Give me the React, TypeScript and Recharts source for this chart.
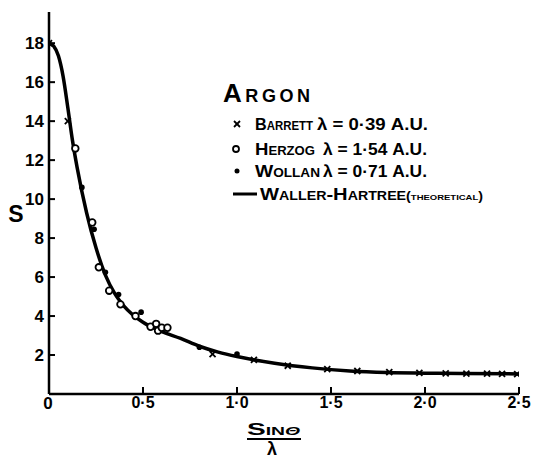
import React from "react";
import { ComposedChart, Line, Scatter, XAxis, YAxis } from "recharts";

const curveX = [0, 0.025, 0.05, 0.075, 0.1, 0.125, 0.15, 0.2, 0.25, 0.3, 0.35, 0.4, 0.5, 0.6, 0.7, 0.8, 0.9, 1.0, 1.2, 1.4, 1.6, 1.8, 2.0, 2.2, 2.5];
const curveS = [18, 17.85, 17.35, 16.3, 14.7, 13.0, 11.6, 9.3, 7.5, 6.1, 5.15, 4.5, 3.68, 3.2, 2.85, 2.45, 2.15, 1.92, 1.58, 1.34, 1.18, 1.1, 1.07, 1.05, 1.03];

const barrettX = [0.0, 0.1, 0.87, 1.09, 1.27, 1.48, 1.64, 1.81, 1.97, 2.11, 2.22, 2.33, 2.41, 2.49];
const barrettS = [18, 14.0, 2.05, 1.75, 1.45, 1.28, 1.18, 1.12, 1.08, 1.06, 1.05, 1.04, 1.03, 1.02];

const herzogX = [0.14, 0.23, 0.265, 0.32, 0.38, 0.46, 0.54, 0.57, 0.58, 0.6, 0.63];
const herzogS = [12.6, 8.8, 6.5, 5.3, 4.6, 4.0, 3.45, 3.6, 3.25, 3.4, 3.4];

const wollanX = [0.175, 0.24, 0.3, 0.37, 0.49, 0.8, 1.0];
const wollanS = [10.6, 8.45, 6.25, 5.1, 4.2, 2.4, 2.05];

const xTicks = [0, 0.5, 1.0, 1.5, 2.0, 2.5];
const xTickLabels = ["0", "0·5", "1·0", "1·5", "2·0", "2·5"];
const yTicks = [2, 4, 6, 8, 10, 12, 14, 16, 18];

const curve = curveX.map((x, i) => ({ x, s: curveS[i] }));
const barrett = barrettX.map((x, i) => ({ x, s: barrettS[i] }));
const herzog = herzogX.map((x, i) => ({ x, s: herzogS[i] }));
const wollan = wollanX.map((x, i) => ({ x, s: wollanS[i] }));

const FONT = "'Liberation Sans', Arial, sans-serif";

const CrossShape = (p: any) => (
  <g>
    <line x1={p.cx - 3} y1={p.cy - 3} x2={p.cx + 3} y2={p.cy + 3} stroke="#000" strokeWidth={1.8} />
    <line x1={p.cx - 3} y1={p.cy + 3} x2={p.cx + 3} y2={p.cy - 3} stroke="#000" strokeWidth={1.8} />
  </g>
);
const CircleShape = (p: any) => (
  <circle cx={p.cx} cy={p.cy} r={3.3} fill="#fff" stroke="#000" strokeWidth={1.8} />
);
const DotShape = (p: any) => <circle cx={p.cx} cy={p.cy} r={2.8} fill="#000" />;

const YTick = (p: any) => {
  const { x, y, payload } = p;
  return (
    <g>
      <line x1={x + 5} x2={x + 11} y1={y} y2={y} stroke="#000" strokeWidth={2} />
      <text x={x} y={y} dy="0.36em" textAnchor="end" fontFamily={FONT} fontWeight="bold" fontSize={17} fill="#000">
        {payload.value}
      </text>
    </g>
  );
};

const XTick = (p: any) => {
  const { x, y, payload } = p;
  const idx = xTicks.indexOf(payload.value);
  if (idx === 0) {
    return (
      <text x={x - 1} y={y + 13} textAnchor="middle" fontFamily={FONT} fontWeight="bold" fontSize={17} fill="#000">
        {xTickLabels[idx]}
      </text>
    );
  }
  return (
    <g>
      <line x1={x} x2={x} y1={y - 2} y2={y - 9} stroke="#000" strokeWidth={2} />
      <text x={x} y={y + 12} textAnchor="middle" fontFamily={FONT} fontWeight="bold" fontSize={16} fill="#000">
        {xTickLabels[idx]}
      </text>
    </g>
  );
};

const textStyle = { fontFamily: FONT, fontWeight: "bold" as const, fill: "#000" };

export default function App() {
  return (
    <div style={{ position: "absolute", left: 0, top: 0, width: 538, height: 461, background: "#fff" }}>
      <ComposedChart width={538} height={461} margin={{ top: 12, right: 19, bottom: 0, left: 0 }}>
        <XAxis
          dataKey="x"
          type="number"
          domain={[0, 2.5]}
          ticks={xTicks}
          allowDataOverflow
          height={67}
          axisLine={{ stroke: "#000", strokeWidth: 2.5 }}
          tickLine={false}
          tickSize={0}
          tickMargin={2}
          tick={<XTick />}
        />
        <YAxis
          dataKey="s"
          type="number"
          domain={[0, 19.6]}
          ticks={yTicks}
          allowDataOverflow
          width={49}
          axisLine={{ stroke: "#000", strokeWidth: 2.5 }}
          tickLine={false}
          tickSize={0}
          tickMargin={5}
          tick={<YTick />}
        />
        <Line
          data={curve}
          dataKey="s"
          type="monotone"
          stroke="#000"
          strokeWidth={3.5}
          dot={false}
          activeDot={false}
          isAnimationActive={false}
        />
        <Scatter data={barrett} dataKey="s" shape={<CrossShape />} isAnimationActive={false} />
        <Scatter data={herzog} dataKey="s" shape={<CircleShape />} isAnimationActive={false} />
        <Scatter data={wollan} dataKey="s" shape={<DotShape />} isAnimationActive={false} />
      </ComposedChart>
      <svg width={538} height={461} style={{ position: "absolute", left: 0, top: 0, pointerEvents: "none" }}>
        <text x={16} y={222} textAnchor="middle" fontSize={23} {...textStyle}>S</text>
        <text x={247} y={435} fontSize={16} fontVariant="small-caps" textLength={53} lengthAdjust="spacingAndGlyphs" {...textStyle}>
          Sin<tspan fontStyle="italic">θ</tspan>
        </text>
        <line x1={247} x2={301} y1={439} y2={439} stroke="#000" strokeWidth={2.2} />
        <text x={272} y={455} textAnchor="middle" fontSize={18} {...textStyle}>λ</text>

        <text x={223} y={102} fontSize={26} fontVariant="small-caps" textLength={87} lengthAdjust="spacing" {...textStyle}>Argon</text>

        <g>
          <line x1={234} y1={121} x2={240} y2={127} stroke="#000" strokeWidth={1.8} />
          <line x1={234} y1={127} x2={240} y2={121} stroke="#000" strokeWidth={1.8} />
          <text x={255} y={130} fontSize={17} fontVariant="small-caps" textLength={58} lengthAdjust="spacingAndGlyphs" {...textStyle}>Barrett</text>
          <text x={317} y={130} fontSize={17} textLength={111} lengthAdjust="spacingAndGlyphs" {...textStyle}>λ = 0·39 A.U.</text>
        </g>
        <g>
          <circle cx={236} cy={149} r={3} fill="#fff" stroke="#000" strokeWidth={1.8} />
          <text x={255} y={155} fontSize={17} fontVariant="small-caps" textLength={60} lengthAdjust="spacingAndGlyphs" {...textStyle}>Herzog</text>
          <text x={323} y={155} fontSize={17} textLength={104} lengthAdjust="spacingAndGlyphs" {...textStyle}>λ = 1·54 A.U.</text>
        </g>
        <g>
          <circle cx={237} cy={171} r={2.5} fill="#000" />
          <text x={255} y={177} fontSize={17} fontVariant="small-caps" textLength={65} lengthAdjust="spacingAndGlyphs" {...textStyle}>Wollan</text>
          <text x={323} y={177} fontSize={17} textLength={104} lengthAdjust="spacingAndGlyphs" {...textStyle}>λ = 0·71 A.U.</text>
        </g>
        <g>
          <line x1={233} x2={257} y1={194} y2={194} stroke="#000" strokeWidth={3} />
          <text x={260} y={200} fontSize={17} fontVariant="small-caps" textLength={223} lengthAdjust="spacingAndGlyphs" {...textStyle}>
            Waller-Hartree<tspan fontSize={12}>(theoretical)</tspan>
          </text>
        </g>
      </svg>
    </div>
  );
}
